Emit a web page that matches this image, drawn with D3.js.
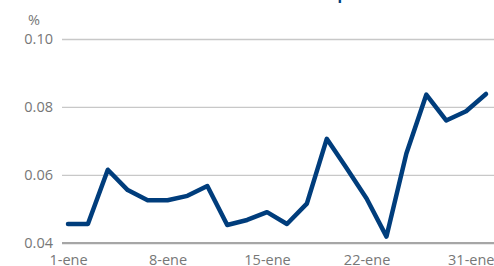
<!DOCTYPE html>
<html><head><meta charset="utf-8">
<script src="https://cdn.jsdelivr.net/npm/d3@7"></script>
<style>
html,body{margin:0;padding:0;background:#fff;overflow:hidden;}
svg{display:block;font-family:"Open Sans",sans-serif;}
</style></head>
<body>
<svg id="chart" width="494" height="266"></svg>
<script>
const title = "Volatilidad del euro en el mercado swap";
const unitLabel = "%";
const categories = ["1-ene","2-ene","3-ene","4-ene","5-ene","8-ene","9-ene","10-ene","11-ene","12-ene","15-ene","16-ene","17-ene","18-ene","19-ene","22-ene","23-ene","24-ene","25-ene","26-ene","29-ene","31-ene"];
const values = [0.0455,0.0455,0.0615,0.0555,0.0525,0.0525,0.0538,0.0567,0.0452,0.0467,0.0490,0.0455,0.0515,0.0706,0.0619,0.0530,0.0418,0.0663,0.0836,0.0760,0.0787,0.0838];
const xTickLabels = ["1-ene","8-ene","15-ene","22-ene","31-ene"];
const yTicks = [0.04,0.06,0.08,0.10];

const W = 494, H = 266;
const plotLeft = 62, plotRight = 494, plotTop = 39, plotBottom = 242.7;
const svg = d3.select("#chart");

const x = d3.scalePoint().domain(categories).range([68, 486]);
const y = d3.scaleLinear().domain([0.04, 0.10]).range([plotBottom, plotTop]);

// title (cut off at top, as in the reference)
svg.append("text").attr("x", 48).attr("y", -0.5)
  .attr("font-size", 15).attr("font-weight", "bold").attr("fill", "#003b7a")
  .text(title);

// unit
svg.append("text").attr("x", 34).attr("y", 25).attr("text-anchor", "middle")
  .attr("font-size", 14.5).attr("fill", "#777").text(unitLabel);

// y axis with gridlines
const yAxis = svg.append("g").attr("transform", `translate(${plotLeft},0)`)
  .call(d3.axisLeft(y).tickValues(yTicks).tickFormat(d3.format(".2f")).tickSize(-(plotRight - plotLeft)).tickPadding(9));
yAxis.select(".domain").remove();
yAxis.selectAll(".tick line").attr("stroke", "#c8c8c8").attr("stroke-width", 1.3);
yAxis.selectAll(".tick").filter(d => d === 0.04).select("line").attr("stroke", "#a6a6a6").attr("stroke-width", 2.2);
yAxis.selectAll(".tick text").attr("font-size", 14.5).attr("fill", "#777").attr("font-family", "'Open Sans',sans-serif");

// x axis
const xAxis = svg.append("g").attr("transform", `translate(0,${plotBottom})`)
  .call(d3.axisBottom(x).tickValues(xTickLabels).tickSize(0).tickPadding(12.5));
xAxis.select(".domain").remove();
xAxis.selectAll(".tick text").attr("font-size", 14.5).attr("fill", "#777").attr("font-family", "'Open Sans',sans-serif");
// justify last label inside chart
xAxis.selectAll(".tick").filter(d => d === xTickLabels[xTickLabels.length - 1]).select("text")
  .attr("text-anchor", "end").attr("x", W - x(xTickLabels[xTickLabels.length - 1]));

// line
const line = d3.line().x((d, i) => x(categories[i])).y(d => y(d));
svg.append("path").datum(values).attr("d", line)
  .attr("fill", "none").attr("stroke", "#003d7c").attr("stroke-width", 4.5)
  .attr("stroke-linejoin", "round").attr("stroke-linecap", "round");
</script>
</body></html>
